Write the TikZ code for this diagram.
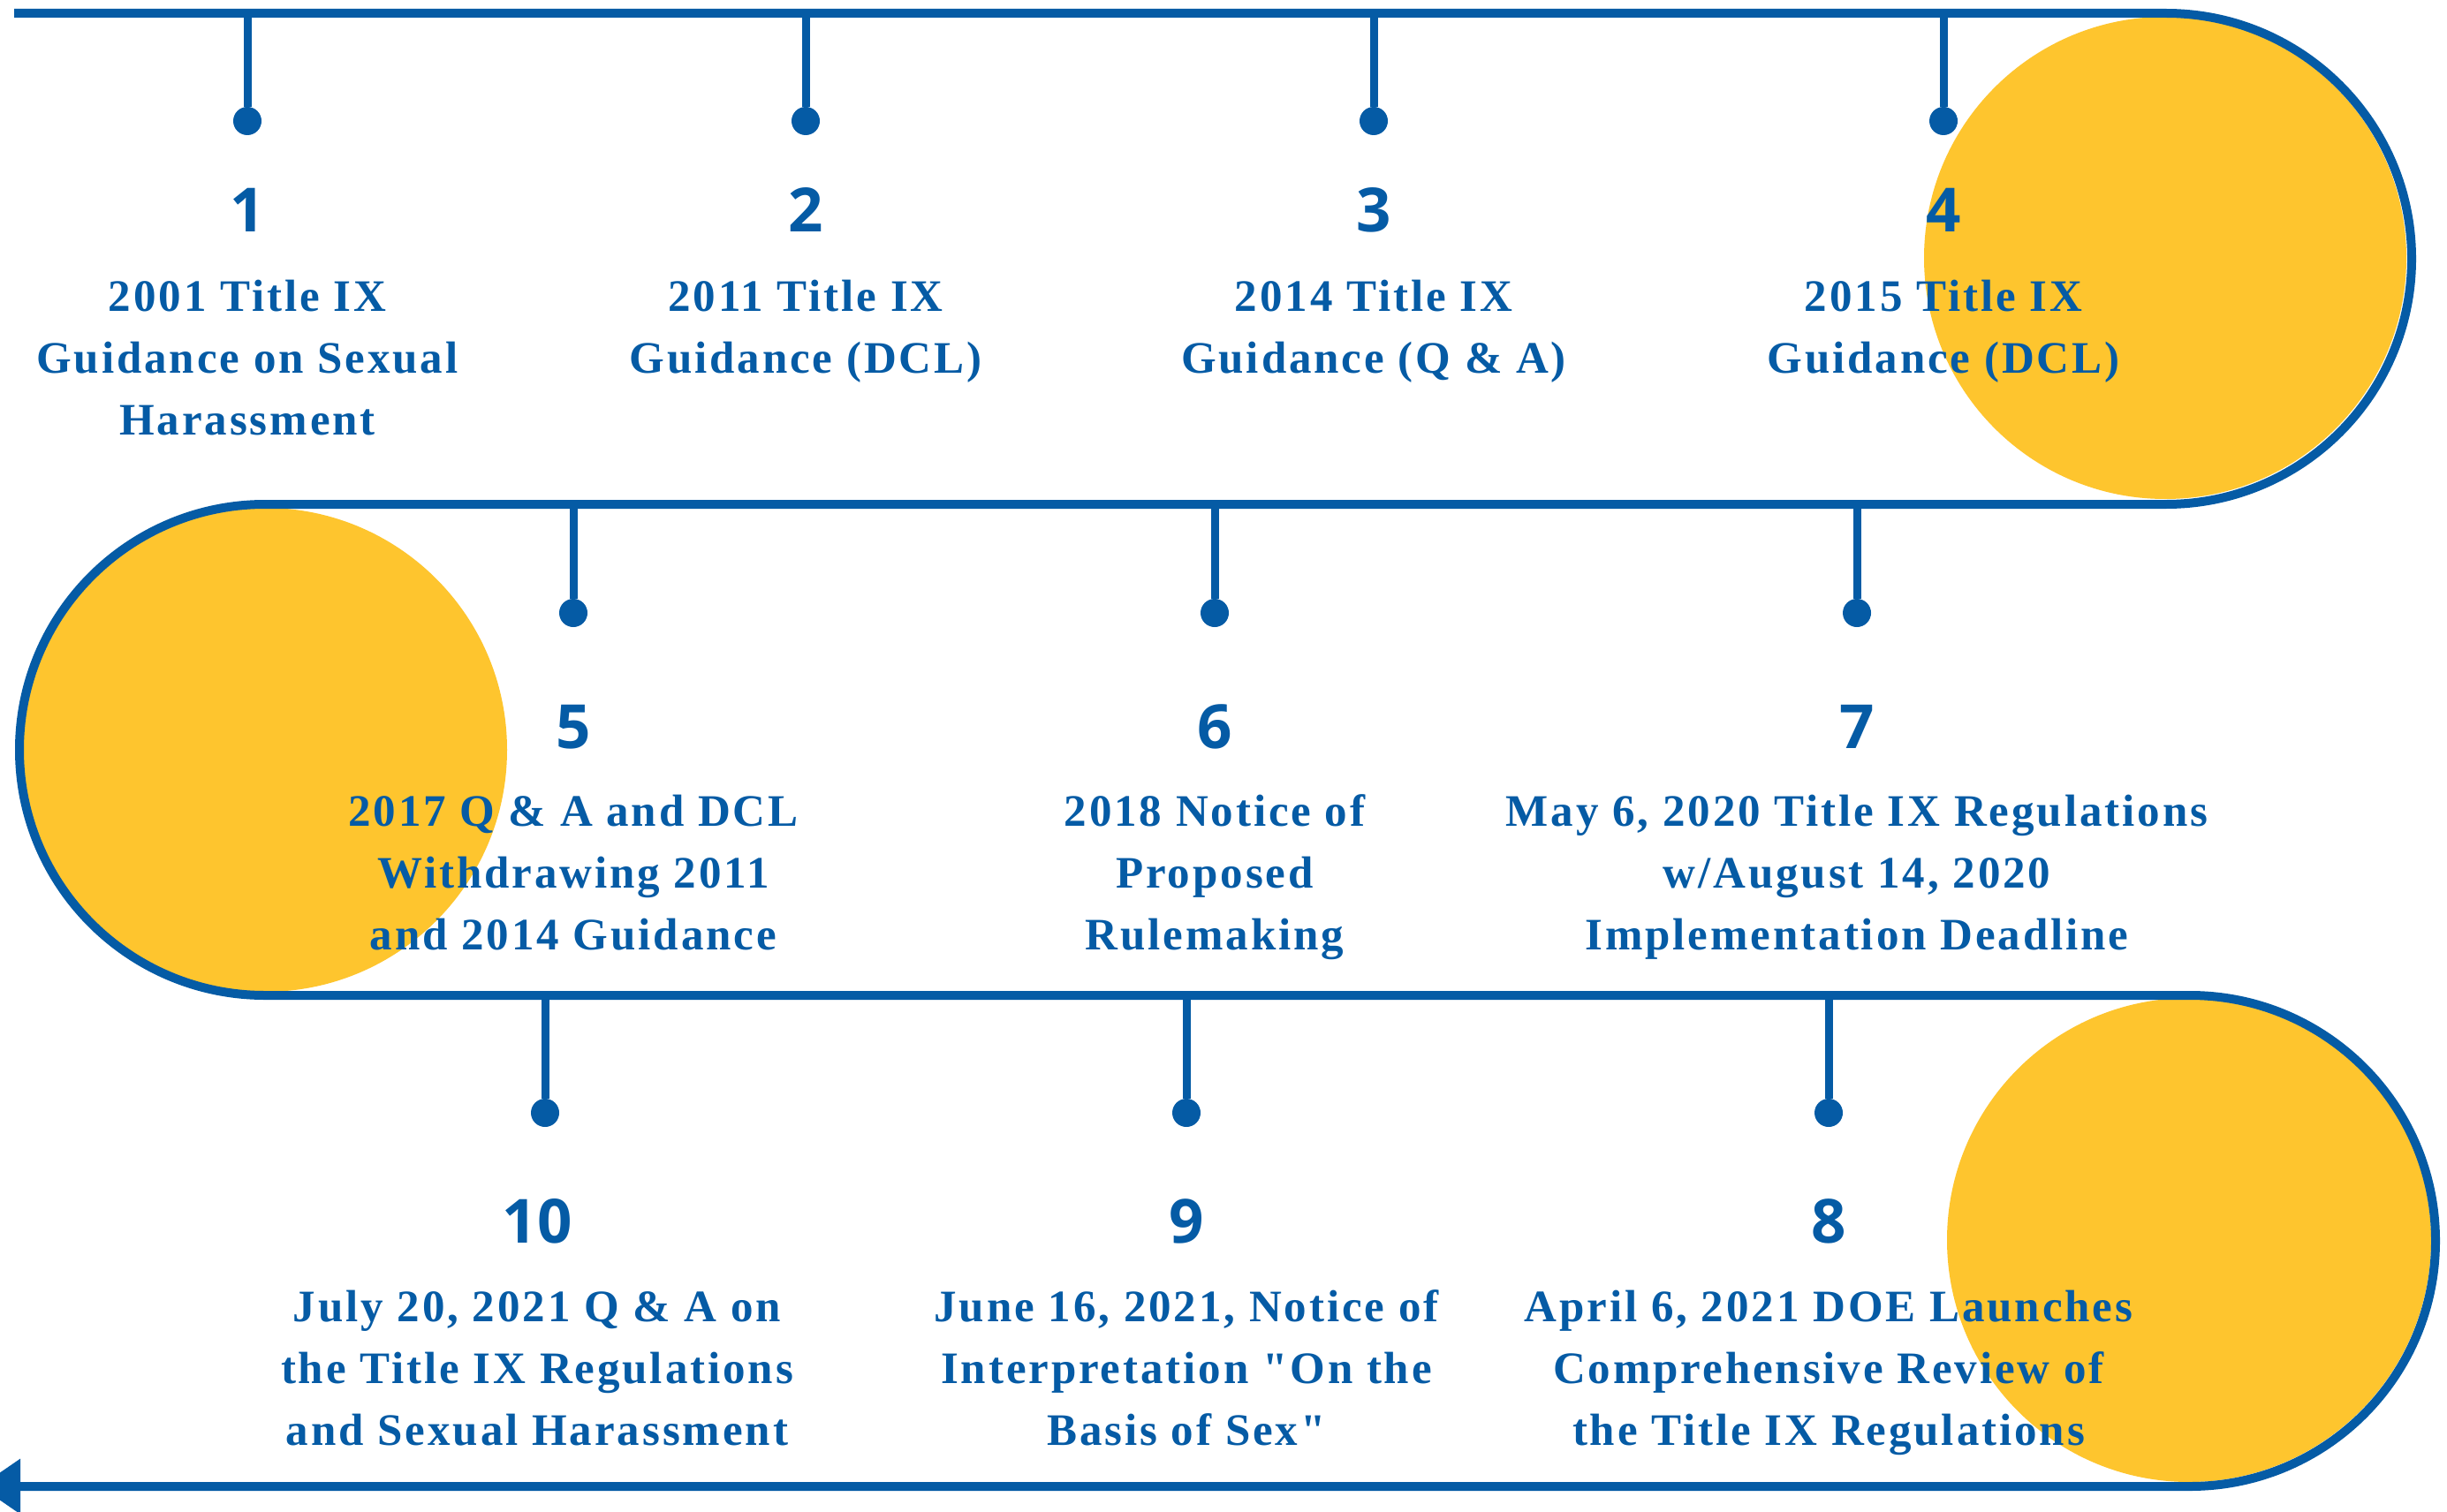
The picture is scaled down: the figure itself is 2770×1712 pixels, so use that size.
\documentclass[tikz,border=0pt]{standalone}
\usepackage{fontspec}
\usetikzlibrary{arrows.meta}
\newfontfamily\txtfont[LetterSpace=5.7]{Liberation Serif}
\newfontfamily\numfont{Open Sans}
\definecolor{tlblue}{RGB}{5,91,165}
\definecolor{tlyellow}{RGB}{254,197,46}
\begin{document}
\begin{tikzpicture}[x=1pt,y=-1pt,
  tl/.style={draw=tlblue, line width=10pt},
  stemline/.style={draw=tlblue, line width=9pt},
  dotn/.style={circle, fill=tlblue, inner sep=0pt, minimum size=32pt},
  numn/.style={text=tlblue, font=\numfont\bfseries\fontsize{69}{69}\selectfont, anchor=base, inner sep=0pt},
  txtn/.style={text=tlblue, font=\txtfont\bfseries\fontsize{51}{70}\selectfont, align=center, anchor=north, inner sep=0pt}]
\useasboundingbox (0,0) rectangle (2770,1712);
\fill[white] (0,0) rectangle (2770,1712);
% yellow disks
\fill[tlyellow] (2451,292) circle[radius=273];
\fill[tlyellow] (300,849) circle[radius=274];
\fill[tlyellow] (2478,1404) circle[radius=274];
% main serpentine path
\coordinate (p0) at (16,15);
\coordinate (p1) at (2452,15);
\coordinate (p2) at (300,571);
\coordinate (p3) at (2479,1127);
\coordinate (p4) at (-23,1683);
\draw[tl, -{Triangle[length=46pt,width=60pt]}] (p0) -- (p1) arc[start angle=-90,end angle=90,radius=278]
  -- (p2) arc[start angle=270,end angle=90,radius=278]
  -- (p3) arc[start angle=-90,end angle=90,radius=278] -- (p4);
% row 1
\foreach \i/\x in {1/280,2/912,3/1555,4/2200}{
  \coordinate (t\i) at (\x,15);
  \node[dotn] (d\i) at (\x,137) {};
  \draw[stemline] (t\i) -- (d\i);
  \node[numn] (n\i) at (\x,263) {\i};
}
% row 2
\foreach \i/\x in {5/649,6/1375,7/2102}{
  \coordinate (t\i) at (\x,571);
  \node[dotn] (d\i) at (\x,694) {};
  \draw[stemline] (t\i) -- (d\i);
  \node[numn] (n\i) at (\x,847) {\i};
}
% row 3
\foreach \i/\x/\tx in {10/617/608,9/1343/1343,8/2070/2070}{
  \coordinate (t\i) at (\x,1127);
  \node[dotn] (d\i) at (\x,1260) {};
  \draw[stemline] (t\i) -- (d\i);
  \node[numn] (n\i) at (\tx,1407) {\i};
}
% texts
\node[txtn] (x1) at (280,312) {\rule{0pt}{40pt}2001 Title IX\\Guidance on Sexual\\Harassment};
\node[txtn] (x2) at (912,312) {\rule{0pt}{40pt}2011 Title IX\\Guidance (DCL)};
\node[txtn] (x3) at (1555,312) {\rule{0pt}{40pt}2014 Title IX\\Guidance (Q \& A)};
\node[txtn] (x4) at (2200,312) {\rule{0pt}{40pt}2015 Title IX\\Guidance (DCL)};
\node[txtn] (x5) at (649,895) {\rule{0pt}{40pt}2017 Q \& A and DCL\\Withdrawing 2011\\and 2014 Guidance};
\node[txtn] (x6) at (1375,895) {\rule{0pt}{40pt}2018 Notice of\\Proposed\\Rulemaking};
\node[txtn] (x7) at (2102,895) {\rule{0pt}{40pt}May 6, 2020 Title IX Regulations\\w/August 14, 2020\\Implementation Deadline};
\node[txtn] (x8) at (2070,1456) {\rule{0pt}{40pt}April 6, 2021 DOE Launches\\Comprehensive Review of\\the Title IX Regulations};
\node[txtn] (x9) at (1343,1456) {\rule{0pt}{40pt}June 16, 2021, Notice of\\Interpretation "On the\\Basis of Sex"};
\node[txtn] (x10) at (608,1456) {\rule{0pt}{40pt}July 20, 2021 Q \& A on\\the Title IX Regulations\\and Sexual Harassment};
\end{tikzpicture}
\end{document}
